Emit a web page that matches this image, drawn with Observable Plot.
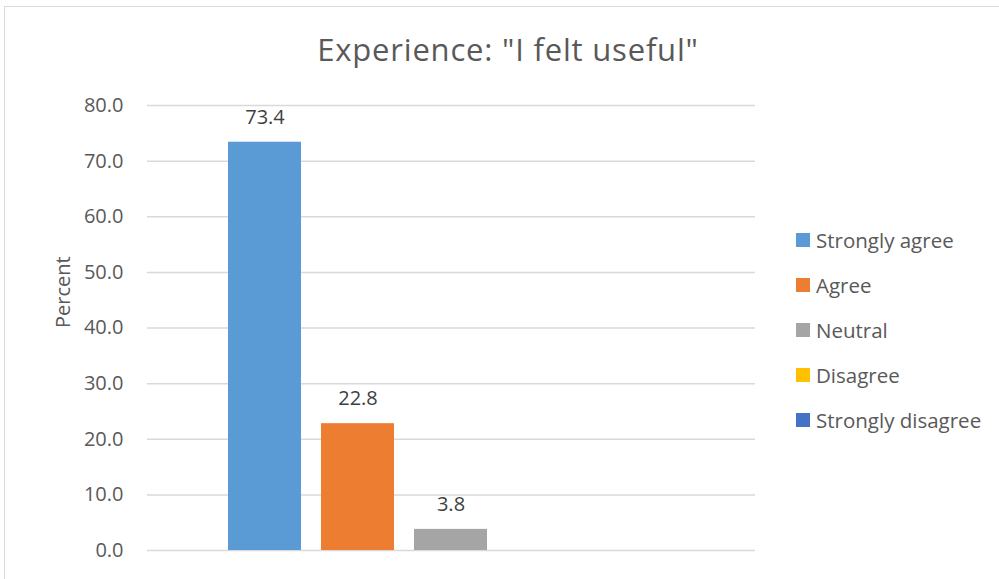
<!DOCTYPE html>
<html><head><meta charset="utf-8">
<script src="https://cdn.jsdelivr.net/npm/d3@7"></script>
<script src="https://cdn.jsdelivr.net/npm/@observablehq/plot@0.6"></script>
<style>
html,body{margin:0;padding:0;background:#fff;}
#wrap{position:relative;width:999px;height:579px;overflow:hidden;font-family:"Open Sans",sans-serif;}
#border{position:absolute;left:4px;top:6px;width:1100px;height:700px;border:1.5px solid #d9d9d9;box-sizing:border-box;}
#title{position:absolute;left:0;width:1016px;top:29px;line-height:40px;text-align:center;font-size:31px;color:#595959;letter-spacing:0.8px;}
#chart{position:absolute;left:0;top:0;}
#legend{position:absolute;left:796px;top:217px;}
.item{display:flex;align-items:center;height:45px;font-size:20.5px;color:#595959;white-space:nowrap;}
.sw{width:14px;height:14px;margin-right:6px;flex:none;}
</style></head>
<body><div id="wrap"><div id="border"></div><div id="chart"></div><div id="title"></div><div id="legend"></div></div>
<script>
const title = 'Experience: "I felt useful"';
const categories = ["Strongly agree","Agree","Neutral","Disagree","Strongly disagree"];
const percents = [73.4, 22.8, 3.8, null, null];
const colors = ["#5B9BD5","#ED7D31","#A5A5A5","#FFC000","#4472C4"];
const yTicks = [0,10,20,30,40,50,60,70,80];
const yLabel = "Percent";

const data = categories.map((c,i)=>({category:c, value:percents[i]}));
const shown = data.filter(d=>d.value!=null);

document.getElementById("title").textContent = title;

const plot = Plot.plot({
  width: 999, height: 579,
  marginLeft: 147, marginRight: 244, marginTop: 105, marginBottom: 29,
  style:{fontFamily:'"Open Sans",sans-serif', fontSize:"20px", color:"#595959", background:"transparent"},
  x:{domain:categories, paddingInner:0.21, paddingOuter:0.84, axis:null},
  y:{domain:[0,80], ticks:yTicks, tickFormat:d3.format(".1f"), label:null},
  color:{domain:categories, range:colors},
  marks:[
    Plot.gridY(yTicks,{stroke:"#d9d9d9", strokeOpacity:1, strokeWidth:1.5}),
    Plot.barY(shown,{x:"category", y:"value", fill:"category"}),
    Plot.axisY({ticks:yTicks, tickFormat:d3.format(".1f"), tickSize:0, tickPadding:24, fontSize:20, fill:"#595959", label:null}),
    Plot.text(shown,{x:"category", y:"value", text:d=>d3.format(".1f")(d.value), dy:-25, fontSize:20, fill:"#404040"}),
    Plot.text([yLabel],{frameAnchor:"left", text:d=>d, rotate:-90, dx:-84, fontSize:20, fill:"#595959"})
  ]
});
document.getElementById("chart").appendChild(plot);

const leg = document.getElementById("legend");
categories.forEach((c,i)=>{
  const it=document.createElement("div"); it.className="item";
  const sw=document.createElement("div"); sw.className="sw"; sw.style.background=colors[i];
  const t=document.createElement("span"); t.textContent=c;
  it.appendChild(sw); it.appendChild(t); leg.appendChild(it);
});
</script></body></html>
